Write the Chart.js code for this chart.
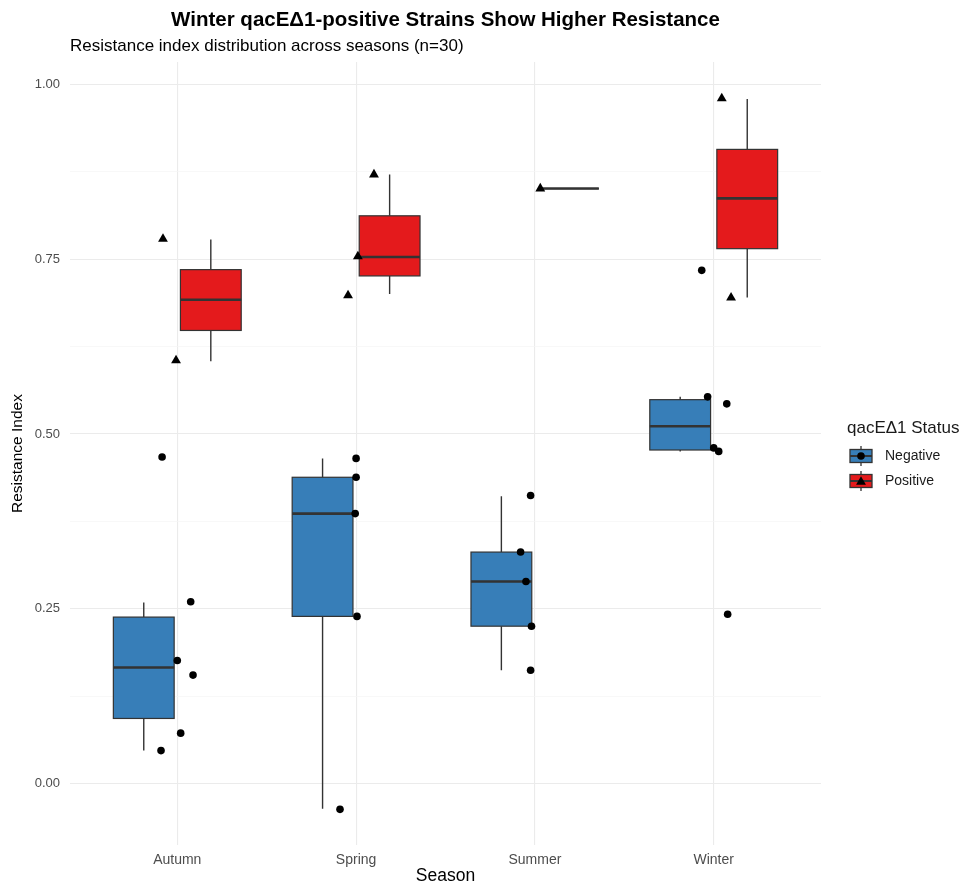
<!DOCTYPE html>
<html>
<head>
<meta charset="utf-8">
<title>Resistance index by season</title>
<script src="https://cdn.jsdelivr.net/npm/chart.js@4.4.0/dist/chart.umd.min.js"></script>
<style>
    html, body { margin: 0; padding: 0; background: #FFFFFF; }
    canvas { display: block; }
</style>
</head>
<body>
<canvas id="season-box-chart" width="968" height="884"></canvas>
<script>
/**
 * Seasonal resistance index boxplots
 * Boxes per qacEΔ1 status, with the individual strains jittered on top
 */

const seasons = ['Autumn', 'Spring', 'Summer', 'Winter'];
const statusLabels = ['Negative', 'Positive'];

// Box summaries per season: lower whisker, Q1, median, Q3, upper whisker
const negLow    = [0.047, -0.036, 0.162, 0.475];
const negQ1     = [0.093,  0.239, 0.225, 0.477];
const negMedian = [0.166,  0.386, 0.289, 0.511];
const negQ3     = [0.238,  0.438, 0.331, 0.549];
const negHigh   = [0.259,  0.465, 0.411, 0.553];

const posLow    = [0.604, 0.700, 0.851, 0.695];
const posQ1     = [0.648, 0.726, 0.851, 0.765];
const posMedian = [0.692, 0.753, 0.851, 0.837];
const posQ3     = [0.735, 0.812, 0.851, 0.907];
const posHigh   = [0.778, 0.871, 0.851, 0.979];

// Individual strains: season index, horizontal jitter, resistance index
const negSeason = [0, 0, 0, 0, 0, 0, 1, 1, 1, 1, 1, 2, 2, 2, 2, 2, 3, 3, 3, 3, 3, 3];
const negJitter = [-0.085, 0.075, 0.000, 0.088, 0.019, -0.091,
                   0.000, 0.000, -0.005, 0.005, -0.090,
                   -0.024, -0.080, -0.050, -0.019, -0.024,
                   -0.034, 0.073, 0.000, 0.028, 0.078, -0.067];
const negValue  = [0.467, 0.260, 0.176, 0.155, 0.072, 0.047,
                   0.465, 0.438, 0.386, 0.239, -0.037,
                   0.412, 0.331, 0.289, 0.225, 0.162,
                   0.553, 0.543, 0.480, 0.475, 0.242, 0.734];

const posSeason = [0, 0, 1, 1, 1, 2, 3, 3];
const posJitter = [-0.080, -0.007, 0.100, 0.010, -0.045, 0.030, 0.045, 0.097];
const posValue  = [0.779, 0.605, 0.871, 0.754, 0.698, 0.851, 0.980, 0.695];

// Axis breaks
const yTickValues  = [0, 0.25, 0.5, 0.75, 1.0];
const yTickLabels  = ['0.00', '0.25', '0.50', '0.75', '1.00'];
const yMinorValues = [0.125, 0.375, 0.625, 0.875];

// Status colors (Set1)
const statusColors = {
    'Negative': '#377EB8',  // Blue
    'Positive': '#E41A1C'   // Red
};
const statusShapes = {
    'Negative': { pointStyle: 'circle', radius: 3.8 },
    'Positive': { pointStyle: 'triangle', radius: 5.7 }
};

const FONT = "'Liberation Sans', Arial, sans-serif";
const INK = '#333333';
const DODGE = 0.1875;
const BOX_HALF = 0.17;

const boxGroups = [
    { status: 'Negative', low: negLow, q1: negQ1, median: negMedian, q3: negQ3, high: negHigh },
    { status: 'Positive', low: posLow, q1: posQ1, median: posMedian, q3: posQ3, high: posHigh }
];

function buildPoints(seasonIdx, jitter, values) {
    return values.map((v, i) => ({ x: seasonIdx[i] + 1 + jitter[i], y: v }));
}

/**
 * Boxes and whiskers, drawn under the strain points
 */
const boxPlugin = {
    id: 'seasonBoxes',
    beforeDatasetsDraw(chart) {
        const { ctx, chartArea, scales: { x, y } } = chart;
        ctx.save();
        ctx.beginPath();
        ctx.rect(chartArea.left, chartArea.top, chartArea.width, chartArea.height);
        ctx.clip();

        boxGroups.forEach((g, gi) => {
            const shift = gi === 0 ? -DODGE : DODGE;
            seasons.forEach((s, i) => {
                const cx = x.getPixelForValue(i + 1 + shift);
                const left = x.getPixelForValue(i + 1 + shift - BOX_HALF);
                const right = x.getPixelForValue(i + 1 + shift + BOX_HALF);
                const yLow = y.getPixelForValue(g.low[i]);
                const yQ1 = y.getPixelForValue(g.q1[i]);
                const yMed = y.getPixelForValue(g.median[i]);
                const yQ3 = y.getPixelForValue(g.q3[i]);
                const yHigh = y.getPixelForValue(g.high[i]);

                // whiskers
                ctx.strokeStyle = INK;
                ctx.lineWidth = 1.4;
                ctx.beginPath();
                ctx.moveTo(cx, yHigh);
                ctx.lineTo(cx, yQ3);
                ctx.moveTo(cx, yQ1);
                ctx.lineTo(cx, yLow);
                ctx.stroke();

                // box
                ctx.fillStyle = statusColors[g.status];
                ctx.fillRect(left, yQ3, right - left, yQ1 - yQ3);
                ctx.lineWidth = 1.2;
                ctx.strokeRect(left, yQ3, right - left, yQ1 - yQ3);

                // median
                ctx.lineWidth = 2.6;
                ctx.beginPath();
                ctx.moveTo(left, yMed);
                ctx.lineTo(right, yMed);
                ctx.stroke();
            });
        });
        ctx.restore();
    }
};

/**
 * Legend with small boxplot keys on the right
 */
const legendPlugin = {
    id: 'statusLegend',
    afterDraw(chart) {
        const ctx = chart.ctx;
        const x0 = 847;
        ctx.save();
        ctx.fillStyle = '#1A1A1A';
        ctx.textBaseline = 'middle';
        ctx.textAlign = 'left';
        ctx.font = '17px ' + FONT;
        ctx.fillText('qacEΔ1 Status', x0, 428);

        const rows = [456, 481];
        statusLabels.forEach((label, i) => {
            const cy = rows[i];
            const kx = x0 + 3;
            const kw = 22;
            const cx = kx + kw / 2;

            ctx.strokeStyle = INK;
            ctx.lineWidth = 1.3;
            ctx.beginPath();
            ctx.moveTo(cx, cy - 10);
            ctx.lineTo(cx, cy + 10);
            ctx.stroke();

            ctx.fillStyle = statusColors[label];
            ctx.fillRect(kx, cy - 6.5, kw, 13);
            ctx.strokeRect(kx, cy - 6.5, kw, 13);
            ctx.lineWidth = 2;
            ctx.beginPath();
            ctx.moveTo(kx, cy);
            ctx.lineTo(kx + kw, cy);
            ctx.stroke();

            ctx.fillStyle = '#000000';
            Chart.helpers.drawPoint(ctx, {
                pointStyle: statusShapes[label].pointStyle,
                radius: statusShapes[label].radius,
                rotation: 0,
                borderWidth: 0
            }, cx, cy + (i === 1 ? 1 : 0));

            ctx.fillStyle = '#1A1A1A';
            ctx.font = '14px ' + FONT;
            ctx.fillText(label, x0 + 38, cy);
        });
        ctx.restore();
    }
};

function isMajor(value) {
    return yTickValues.some(t => Math.abs(t - value) < 1e-6);
}

const ctx = document.getElementById('season-box-chart');

new Chart(ctx, {
    type: 'scatter',
    data: {
        datasets: statusLabels.map(label => ({
            label: label,
            data: label === 'Negative'
                ? buildPoints(negSeason, negJitter, negValue)
                : buildPoints(posSeason, posJitter, posValue),
            pointStyle: statusShapes[label].pointStyle,
            pointRadius: statusShapes[label].radius,
            pointBackgroundColor: '#000000',
            pointBorderWidth: 0,
            showLine: false
        }))
    },
    options: {
        responsive: false,
        animation: false,
        devicePixelRatio: 1,
        layout: {
            padding: { left: 0, right: 147, top: 0, bottom: 0 }
        },
        plugins: {
            legend: { display: false },
            tooltip: { enabled: false },
            title: {
                display: true,
                fullSize: false,
                text: 'Winter qacEΔ1-positive Strains Show Higher Resistance',
                color: '#000000',
                align: 'center',
                font: { family: FONT, size: 20.5, weight: 'bold', lineHeight: 1.2 },
                padding: { top: 8, bottom: 2 }
            },
            subtitle: {
                display: true,
                fullSize: false,
                text: 'Resistance index distribution across seasons (n=30)',
                color: '#000000',
                align: 'start',
                font: { family: FONT, size: 17, lineHeight: 1.2 },
                padding: { top: 2, bottom: 5 }
            }
        },
        scales: {
            x: {
                type: 'linear',
                min: 0.4,
                max: 4.6,
                afterBuildTicks: scale => {
                    scale.ticks = seasons.map((s, i) => ({ value: i + 1 }));
                },
                afterFit: scale => { scale.height = 39; },
                ticks: {
                    callback: value => seasons[Math.round(value) - 1],
                    color: '#4D4D4D',
                    padding: 7,
                    font: { family: FONT, size: 14 }
                },
                grid: {
                    color: '#EBEBEB',
                    lineWidth: 1.1,
                    drawTicks: false
                },
                border: { display: false },
                title: {
                    display: true,
                    text: 'Season',
                    color: '#000000',
                    font: { family: FONT, size: 17.5, lineHeight: 1 },
                    padding: { top: 0, bottom: -1 }
                }
            },
            y: {
                min: -0.088,
                max: 1.032,
                afterBuildTicks: scale => {
                    scale.ticks = yTickValues.concat(yMinorValues)
                        .sort((a, b) => a - b)
                        .map(v => ({ value: v }));
                },
                afterFit: scale => { scale.width = 70; },
                ticks: {
                    callback: value => {
                        const idx = yTickValues.findIndex(t => Math.abs(t - value) < 1e-6);
                        return idx >= 0 ? yTickLabels[idx] : '';
                    },
                    color: '#4D4D4D',
                    padding: 10,
                    font: { family: FONT, size: 13 }
                },
                grid: {
                    color: c => isMajor(c.tick.value) ? '#EBEBEB' : '#F5F5F5',
                    lineWidth: c => isMajor(c.tick.value) ? 1.1 : 0.7,
                    drawTicks: false
                },
                border: { display: false },
                title: {
                    display: true,
                    text: 'Resistance Index',
                    color: '#000000',
                    font: { family: FONT, size: 15.5, lineHeight: 1 },
                    padding: { top: 10, bottom: 0 }
                }
            }
        }
    },
    plugins: [boxPlugin, legendPlugin]
});
</script>
</body>
</html>
